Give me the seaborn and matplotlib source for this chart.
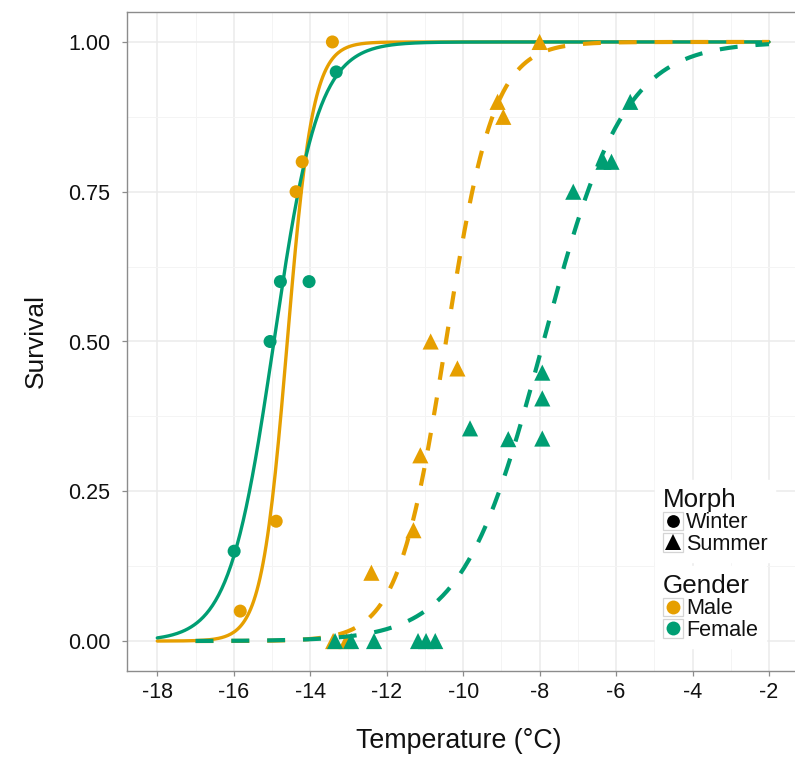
import numpy as np
import pandas as pd
import matplotlib
matplotlib.use("Agg")
import matplotlib.pyplot as plt
from matplotlib.legend_handler import HandlerBase
from matplotlib.lines import Line2D
from matplotlib.patches import Rectangle
import seaborn as sns

# ---- observed survival proportions -------------------------------------
winter_male_temp = [-13.42, -14.21, -14.37, -14.89, -15.83]
winter_male_surv = [1.00, 0.80, 0.75, 0.20, 0.05]

winter_female_temp = [-13.32, -14.78, -14.03, -15.05, -15.99]
winter_female_surv = [0.95, 0.60, 0.60, 0.50, 0.15]

summer_male_temp = [-8.00, -9.10, -8.95, -10.85, -10.15, -11.12, -11.30,
                    -12.40, -13.40, -13.05]
summer_male_surv = [1.00, 0.90, 0.875, 0.50, 0.455, 0.31, 0.185,
                    0.114, 0.00, 0.00]

summer_female_temp = [-5.63, -6.33, -6.12, -7.12, -7.93, -7.93, -7.93,
                      -8.82, -9.82, -13.35, -12.93, -12.33, -11.18,
                      -10.97, -10.73]
summer_female_surv = [0.90, 0.80, 0.80, 0.75, 0.448, 0.405, 0.338,
                      0.337, 0.355, 0.00, 0.00, 0.00, 0.00, 0.00, 0.00]

# ---- logistic fits: LT50 (°C) and slope (per °C) -------------------------
fit_groups = ["Winter Male", "Winter Female", "Summer Male", "Summer Female"]
fit_lt50 = [-14.60, -14.95, -10.45, -7.90]
fit_slope = [3.00, 1.72, 1.60, 0.95]
fit_from = [-18.0, -18.0, -17.0, -17.0]
fit_to = [-2.0, -2.0, -2.0, -2.0]

x_ticks = [-18, -16, -14, -12, -10, -8, -6, -4, -2]
y_ticks = [0.00, 0.25, 0.50, 0.75, 1.00]
y_tick_labels = ["0.00", "0.25", "0.50", "0.75", "1.00"]

colors = {"Male": "#E69F00", "Female": "#009E73"}

# ---- tidy tables --------------------------------------------------------
def point_frame(temp, surv, morph, gender):
    return pd.DataFrame({"Temperature": temp, "Survival": surv,
                         "Morph": morph, "Gender": gender})

points = pd.concat([
    point_frame(winter_male_temp, winter_male_surv, "Winter", "Male"),
    point_frame(winter_female_temp, winter_female_surv, "Winter", "Female"),
    point_frame(summer_male_temp, summer_male_surv, "Summer", "Male"),
    point_frame(summer_female_temp, summer_female_surv, "Summer", "Female"),
], ignore_index=True)

curve_parts = []
for grp, lt50, k, x0, x1 in zip(fit_groups, fit_lt50, fit_slope, fit_from, fit_to):
    morph, gender = grp.split()
    t = np.linspace(x0, x1, 400)
    p = 1.0 / (1.0 + np.exp(-k * (t - lt50)))
    curve_parts.append(pd.DataFrame({"Temperature": t, "Survival": p,
                                     "Morph": morph, "Gender": gender}))
curves = pd.concat(curve_parts, ignore_index=True)

# ---- figure -------------------------------------------------------------
sns.set_theme(style="white")
plt.rcParams["font.family"] = ["Liberation Sans", "DejaVu Sans"]

W, H = 795, 758
fig = plt.figure(figsize=(W / 100, H / 100), dpi=100)
ax_left, ax_right, ax_top, ax_bottom = 126.7, 799.6, 12.0, 671.0
ax = fig.add_axes([ax_left / W, (H - ax_bottom) / H,
                   (ax_right - ax_left) / W, (ax_bottom - ax_top) / H])

hue_order = ["Male", "Female"]
winter_curves = curves[curves["Morph"] == "Winter"]
summer_curves = curves[curves["Morph"] == "Summer"]

sns.lineplot(data=winter_curves, x="Temperature", y="Survival", hue="Gender",
             hue_order=hue_order, palette=colors, linewidth=2.4,
             legend=False, ax=ax, zorder=3, estimator=None, sort=False)
sns.scatterplot(data=points[points["Morph"] == "Winter"], x="Temperature",
                y="Survival", hue="Gender", hue_order=hue_order,
                palette=colors, marker="o", s=88, linewidth=0,
                legend=False, ax=ax, zorder=4)
sns.scatterplot(data=points[points["Morph"] == "Summer"], x="Temperature",
                y="Survival", hue="Gender", hue_order=hue_order,
                palette=colors, marker="^", s=135, linewidth=0,
                legend=False, ax=ax, zorder=5)
n_before = len(ax.lines)
sns.lineplot(data=summer_curves, x="Temperature", y="Survival", hue="Gender",
             hue_order=hue_order, palette=colors, linewidth=3.0,
             legend=False, ax=ax, zorder=6, estimator=None, sort=False)
for ln in ax.lines[n_before:]:
    ln.set_dashes((4.3, 4.3))
    ln.set_dash_capstyle("butt")

# ---- axes styling -------------------------------------------------------
ax.set_xlim(-18.8, -1.2)
ax.set_ylim(-0.05, 1.05)
ax.set_xticks(x_ticks)
ax.set_xticklabels([str(v) for v in x_ticks])
ax.set_yticks(y_ticks)
ax.set_yticklabels(y_tick_labels)
ax.set_xticks(np.arange(-17, -2, 2), minor=True)
ax.set_yticks([0.125, 0.375, 0.625, 0.875], minor=True)
ax.grid(which="major", color="#EBEBEB", linewidth=1.1)
ax.grid(which="minor", color="#F4F4F4", linewidth=0.7)
ax.set_axisbelow(True)
ax.tick_params(which="major", length=3.6, width=0.9, color="#8C8C8C",
               labelsize=15.5, labelcolor="#111111", pad=8.0, direction="out")
ax.tick_params(axis="x", pad=4.5)
ax.tick_params(which="minor", length=0)
ax.tick_params(left=True, bottom=True)
for side in ["left", "bottom", "top", "right"]:
    ax.spines[side].set_visible(True)
    ax.spines[side].set_color("#8C8C8C")
    ax.spines[side].set_linewidth(1.0)

ax.set_xlabel("Temperature (°C)", fontsize=19.3, color="#111111")
ax.set_ylabel("Survival", fontsize=19.0, color="#111111")
ax_w, ax_h = ax_right - ax_left, ax_bottom - ax_top
ax.xaxis.set_label_coords((459 - ax_left) / ax_w, -(741 - ax_bottom) / ax_h)
ax.xaxis.label.set_va("center")
ax.yaxis.set_label_coords((36 - ax_left) / ax_w, 0.5)
ax.yaxis.label.set_va("center")


# ---- legends with boxed keys --------------------------------------------
class BoxedKey(HandlerBase):
    def create_artists(self, legend, orig_handle, xdescent, ydescent,
                       width, height, fontsize, trans):
        box = Rectangle((-xdescent, -ydescent), width, height,
                        facecolor="white", edgecolor="#D4D4D4",
                        linewidth=0.9, transform=trans)
        dot = Line2D([width / 2 - xdescent], [height / 2 - ydescent],
                     marker=orig_handle.get_marker(),
                     markersize=orig_handle.get_markersize(),
                     markerfacecolor=orig_handle.get_markerfacecolor(),
                     markeredgewidth=0, linestyle="", transform=trans)
        return [box, dot]


morph_handles = [
    Line2D([], [], marker="o", markersize=9.2, color="black", linestyle=""),
    Line2D([], [], marker="^", markersize=11.5, color="black", linestyle=""),
]
gender_handles = [
    Line2D([], [], marker="o", markersize=10, color=colors["Male"], linestyle=""),
    Line2D([], [], marker="o", markersize=10, color=colors["Female"], linestyle=""),
]

common = dict(loc="upper left", bbox_transform=fig.transFigure,
              frameon=True, fancybox=False, framealpha=1.0,
              edgecolor="white", facecolor="white",
              prop={"size": 15.6}, title_fontsize=18.7,
              handlelength=0.93, handleheight=0.93, handletextpad=0.15,
              labelspacing=0.0, borderpad=0.35, borderaxespad=0.0,
              alignment="left",
              handler_map={Line2D: BoxedKey()})

leg1 = ax.legend(morph_handles, ["Winter", "Summer"], title="Morph",
                 bbox_to_anchor=(655 / W, 1 - 480 / H), **common)
leg1.get_title().set_color("#111111")
ax.add_artist(leg1)
leg2 = ax.legend(gender_handles, ["Male", "Female"], title="Gender",
                 bbox_to_anchor=(655 / W, 1 - 566 / H), **common)
leg2.get_title().set_color("#111111")
for lg in (leg1, leg2):
    lg.set_zorder(10)
    for t in lg.get_texts():
        t.set_color("#111111")

fig.savefig("out.png", dpi=100)
